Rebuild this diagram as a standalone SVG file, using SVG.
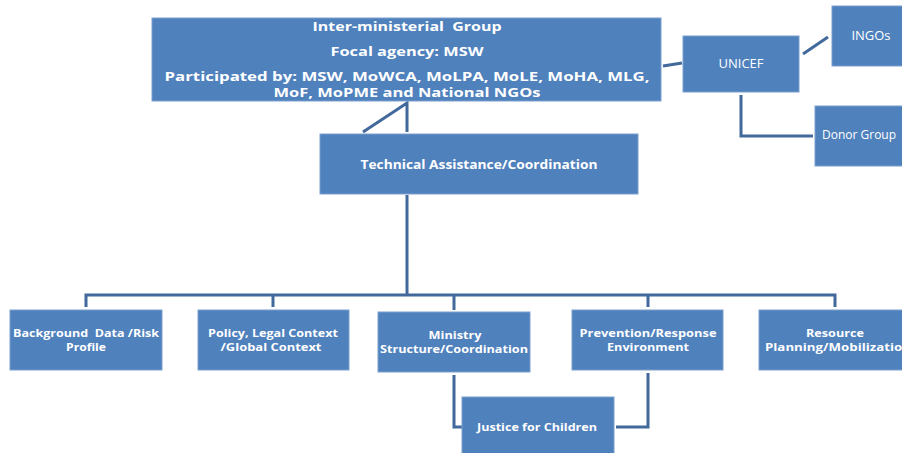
<svg xmlns="http://www.w3.org/2000/svg" width="902" height="453" viewBox="0 0 902 453">
<style>
.box{fill:#4F81BD;stroke:#7A9FCF;stroke-width:1}
.t{font-family:"Open Sans","Liberation Sans",Arial,sans-serif;font-weight:bold;fill:#fff;text-anchor:middle}
.r{font-family:"Open Sans","Liberation Sans",Arial,sans-serif;fill:#fff;text-anchor:middle;font-size:12px}
.s{font-size:11px}
.c{fill:none;stroke:#41699C;stroke-width:3}
</style>
<rect width="902" height="453" fill="#fff"/>
<g id="connectors">
<path class="c" d="M663,66 L682,63"/>
<path class="c" d="M803,54 L828,37"/>
<path class="c" d="M741,95 V136 H813"/>
<path class="c" d="M363,132 L407,103 V132"/>
<path class="c" d="M407,195 V295"/>
<path class="c" d="M86,307 V295 H835 V307"/>
<path class="c" d="M273,295 V307"/>
<path class="c" d="M454,295 V310"/>
<path class="c" d="M648,295 V307"/>
<path class="c" d="M454,375 V427 H462"/>
<path class="c" d="M648,373 V427 H616"/>
</g>
<g id="inter-ministerial">
<rect class="box" x="152" y="18" width="509" height="83"/>
<text class="t" x="407" y="31" font-size="13" textLength="189" lengthAdjust="spacingAndGlyphs">Inter-ministerial&#160; Group</text>
<text class="t" x="407" y="56" font-size="13" textLength="153" lengthAdjust="spacingAndGlyphs">Focal agency: MSW</text>
<text class="t" x="407" y="80.5" font-size="12.5" textLength="485" lengthAdjust="spacingAndGlyphs">Participated by: MSW, MoWCA, MoLPA, MoLE, MoHA, MLG,</text>
<text class="t" x="407" y="97" font-size="12.5" textLength="267" lengthAdjust="spacingAndGlyphs">MoF, MoPME and National NGOs</text>
</g>
<g id="unicef">
<rect class="box" x="683" y="36" width="116" height="56"/>
<text class="r" x="741" y="68" textLength="45" lengthAdjust="spacingAndGlyphs">UNICEF</text>
</g>
<g id="ingos">
<rect class="box" x="832" y="6" width="75" height="60"/>
<text class="r" x="871" y="40" textLength="39" lengthAdjust="spacingAndGlyphs">INGOs</text>
</g>
<g id="donor">
<rect class="box" x="815" y="106" width="92" height="60"/>
<text class="r" x="822" y="139" style="text-anchor:start">Donor Group</text>
</g>
<g id="technical">
<rect class="box" x="320" y="134" width="318" height="60"/>
<text class="t" x="479" y="169" font-size="12" textLength="237" lengthAdjust="spacingAndGlyphs">Technical Assistance/Coordination</text>
</g>
<g id="background">
<rect class="box" x="10" y="310" width="152" height="60"/>
<text class="t s" x="86" y="337" textLength="146" lengthAdjust="spacingAndGlyphs">Background&#160; Data /Risk</text>
<text class="t s" x="86" y="351" textLength="40" lengthAdjust="spacingAndGlyphs">Profile</text>
</g>
<g id="policy">
<rect class="box" x="198" y="310" width="151" height="60"/>
<text class="t s" x="273" y="337" textLength="130" lengthAdjust="spacingAndGlyphs">Policy, Legal Context</text>
<text class="t s" x="271" y="351" textLength="101" lengthAdjust="spacingAndGlyphs">/Global Context</text>
</g>
<g id="ministry">
<rect class="box" x="378" y="312" width="152" height="60"/>
<text class="t s" x="455" y="339" textLength="53" lengthAdjust="spacingAndGlyphs">Ministry</text>
<text class="t s" x="454" y="353" textLength="148" lengthAdjust="spacingAndGlyphs">Structure/Coordination</text>
</g>
<g id="prevention">
<rect class="box" x="572" y="310" width="151" height="60"/>
<text class="t s" x="648" y="337" textLength="137" lengthAdjust="spacingAndGlyphs">Prevention/Response</text>
<text class="t s" x="648" y="351" textLength="82" lengthAdjust="spacingAndGlyphs">Environment</text>
</g>
<g id="resource">
<rect class="box" x="759" y="310" width="150" height="60"/>
<text class="t s" x="835" y="337" textLength="58" lengthAdjust="spacingAndGlyphs">Resource</text>
<text class="t s" x="838" y="351" textLength="146" lengthAdjust="spacingAndGlyphs">Planning/Mobilization</text>
</g>
<g id="justice">
<rect class="box" x="462" y="397" width="152" height="60"/>
<text class="t s" x="537" y="431" textLength="120" lengthAdjust="spacingAndGlyphs">Justice for Children</text>
</g>
</svg>
